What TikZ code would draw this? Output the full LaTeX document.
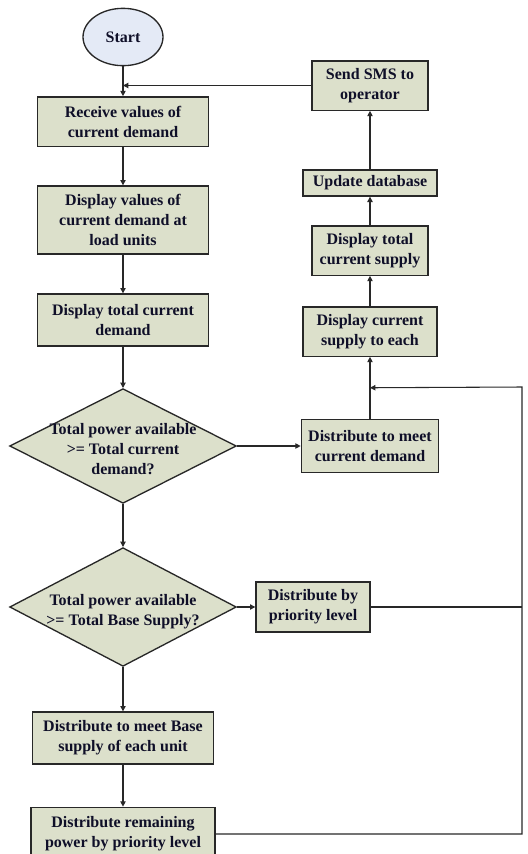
\documentclass[tikz,border=0pt]{standalone}
\usepackage{fontspec}
\setmainfont{Liberation Serif}
\usetikzlibrary{arrows.meta,shapes.geometric,calc}

\definecolor{boxfill}{RGB}{220,224,203}
\definecolor{startfill}{RGB}{228,234,246}
\definecolor{inkline}{RGB}{40,40,40}
\definecolor{inktext}{RGB}{15,15,40}

% text of a decision, kept out of the diamond's size
\newcommand{\dtext}[1]{\smash{\makebox[0pt]{\raisebox{-6pt}{\begin{tabular}{@{}c@{}}#1\end{tabular}}}}}

\tikzset{
  flowfont/.style={font=\bfseries\fontsize{12}{15}\selectfont, text=inktext},
  startnode/.style={ellipse, draw=inkline, line width=1pt, fill=startfill, flowfont, minimum width=60pt, minimum height=43pt},
  procbox/.style={draw=inkline, line width=1pt, fill=boxfill, align=center, inner sep=1pt, flowfont},
  decision/.style={diamond, draw=inkline, line width=1pt, fill=boxfill, inner sep=0pt, flowfont, minimum width=170pt},
  flow/.style={draw=inkline, line width=0.8pt, -{Triangle[length=4pt,width=4pt]}},
  plain/.style={draw=inkline, line width=0.8pt},
}

\begin{document}
\begin{tikzpicture}[x=0.75pt, y=-0.75pt]
		\clip (0,0) rectangle (528,854);
		\useasboundingbox (0,0) rectangle (528,854);

		% Left column
		\node[startnode] (start) at (123,37) {Start};
		\node[procbox, minimum width=128pt, minimum height=37pt] (recv) at (123,121.5) {Receive values of\\current demand};
		\node[procbox, minimum width=128pt, minimum height=51pt] (dispval) at (123,220) {Display values of\\current demand at\\load units};
		\node[procbox, minimum width=128pt, minimum height=39pt] (disptot) at (123,320) {Display total current\\demand};
		\node[decision, minimum height=86pt] (check1) at (123,446) {\dtext{Total power available\\>= Total current\\demand?}};
		\node[decision, minimum height=89pt] (check2) at (123,607) {\dtext{Total power available\\>= Total Base Supply?}};
		\node[procbox, minimum width=136pt, minimum height=39pt] (base) at (123,738) {Distribute to meet Base\\supply of each unit};
		\node[procbox, minimum width=138pt, minimum height=40pt] (remain) at (123,834) {Distribute remaining\\power by priority level};

		% Right column
		\node[procbox, minimum width=87pt, minimum height=37pt] (sms) at (370,85.5) {Send SMS to\\operator};
		\node[procbox, minimum width=100.5pt, minimum height=19.5pt] (dbase) at (370,183) {Update database};
		\node[procbox, minimum width=87pt, minimum height=37pt] (totsup) at (370,250.5) {Display total\\current supply};
		\node[procbox, minimum width=100.5pt, minimum height=37pt] (eachsup) at (370,331.5) {Display current\\supply to each};
		\node[procbox, minimum width=103pt, minimum height=40pt] (meet) at (370,446) {Distribute to meet\\current demand};
		\node[procbox, minimum width=85.5pt, minimum height=37.5pt] (prio) at (313,607) {Distribute by\\priority level};

		% Joints of the return line
		\coordinate (jn) at ($(meet.north)!0.5!(eachsup.south)$);
		\coordinate (rcol) at (522,387);

		% Main flow
		\draw[flow] (start) -- (recv);
		\draw[flow] (recv) -- (dispval);
		\draw[flow] (dispval) -- (disptot);
		\draw[flow] (disptot) -- (check1);
		\draw[flow] (check1) -- (check2);
		\draw[flow] (check2) -- (base);
		\draw[flow] (base) -- (remain);
		\draw[flow] (check1.east) -- (check1.east -| meet.west);
		\draw[flow] (check2.east) -- (check2.east -| prio.west);

		% Upward flow
		\draw[flow] (meet) -- (eachsup);
		\draw[flow] (eachsup) -- (totsup);
		\draw[flow] (totsup) -- (dbase);
		\draw[flow] (dbase) -- (sms);
		\draw[flow] (sms.west) -- (sms.west -| start.south);

		% Return lines
		\draw[plain] (prio.east) -- (prio.east -| rcol);
		\draw[flow] (remain.east) -| (rcol) -- (jn);
	\end{tikzpicture}
\end{document}
